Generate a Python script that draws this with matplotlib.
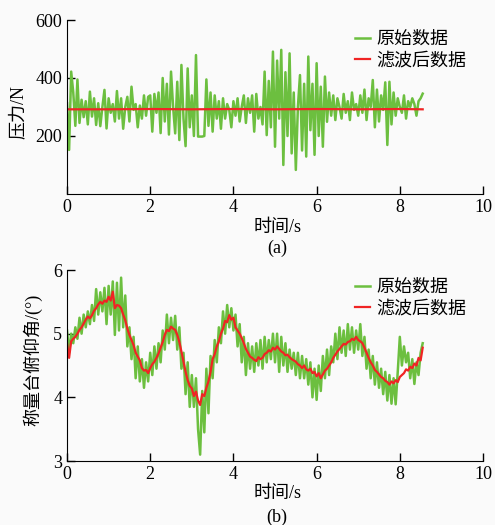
import numpy as np
import matplotlib
matplotlib.use('Agg')
import matplotlib.pyplot as plt

plt.rcParams['font.family'] = ['Liberation Serif', 'Noto Sans CJK SC']
plt.rcParams['axes.unicode_minus'] = False

# (a) 压力 - 时间 (采样间隔 0.05 s)
t_step = 0.05
force_raw = [
    313, 152, 422, 350, 235, 395, 245, 325, 265, 320,
    240, 353, 267, 330, 238, 313, 234, 300, 359, 226,
    330, 280, 310, 250, 355, 260, 330, 225, 300, 335,
    250, 370, 290, 310, 230, 305, 260, 340, 270, 335,
    340, 215, 345, 280, 350, 210, 400, 250, 380, 205,
    422, 300, 209, 387, 186, 445, 260, 165, 433, 230,
    340, 200, 479, 198, 198, 198, 200, 395, 235, 350,
    215, 340, 260, 320, 225, 330, 260, 310, 290, 230,
    320, 270, 330, 250, 300, 340, 245, 330, 280, 340,
    215, 345, 260, 300, 240, 422, 203, 390, 230, 491,
    163, 460, 260, 497, 100, 420, 200, 485, 140, 350,
    83, 300, 410, 150, 380, 129, 474, 220, 380, 135,
    451, 200, 370, 163, 405, 249, 350, 270, 340, 255,
    330, 300, 260, 345, 280, 320, 255, 350, 290, 310,
    270, 340, 280, 360, 255, 330, 300, 393, 230, 360,
    250, 340, 290, 385, 169, 387, 240, 350, 270, 330,
    300, 280, 340, 260, 320, 300, 330, 310, 270, 320,
    330, 346,
]
force_filt_t = [0, 1, 2, 3, 4, 5, 6, 7, 8, 8.55]
force_filt = [292, 292, 293, 292, 293, 292, 293, 292, 293, 292]

# (b) 称量台俯仰角 - 时间
angle_raw = [
    5.05, 4.70, 5.00, 4.85, 5.10, 4.92, 5.25, 5.00, 5.30, 5.10,
    5.35, 5.15, 5.45, 5.20, 5.70, 5.30, 5.65, 5.35, 5.72, 5.15,
    5.75, 5.30, 5.82, 4.98, 5.80, 5.05, 5.88, 5.10, 5.60, 4.80,
    5.10, 4.60, 4.95, 4.30, 4.80, 4.25, 4.60, 4.15, 4.55, 4.25,
    4.70, 4.35, 4.80, 4.45, 4.85, 4.55, 5.05, 4.75, 5.30, 4.85,
    5.25, 4.90, 5.28, 4.75, 5.10, 4.45, 4.70, 4.05, 4.55, 3.85,
    4.35, 3.85, 4.30, 3.50, 3.10, 4.10, 3.45, 4.45, 3.75, 4.65,
    4.30, 4.90, 4.55, 5.10, 4.85, 5.35, 5.00, 5.45, 5.10, 5.40,
    5.05, 5.30, 4.80, 5.15, 4.55, 4.95, 4.35, 4.85, 4.45, 4.80,
    4.40, 4.85, 4.50, 4.90, 4.45, 4.95, 4.55, 4.90, 4.60, 5.00,
    4.55, 5.00, 4.40, 4.95, 4.50, 4.85, 4.40, 4.75, 4.45, 4.70,
    4.35, 4.70, 4.30, 4.65, 4.30, 4.60, 4.20, 4.55, 4.00, 4.45,
    3.96, 4.50, 4.10, 4.65, 4.30, 4.75, 4.35, 4.80, 4.55, 5.00,
    4.60, 5.10, 4.70, 5.05, 4.65, 5.15, 4.75, 5.10, 4.70, 5.05,
    4.75, 5.15, 4.65, 4.95, 4.45, 4.75, 4.30, 4.65, 4.20, 4.55,
    4.15, 4.45, 4.05, 4.40, 3.95, 4.35, 3.90, 4.30, 3.89, 4.40,
    4.95, 4.50, 4.80, 4.55, 4.70, 4.30, 4.60, 4.21, 4.55, 4.35,
    4.70, 4.85,
]
angle_filt = [
    4.85, 4.62, 4.88, 4.92, 4.95, 5.00, 5.06, 5.10, 5.16, 5.22,
    5.27, 5.24, 5.29, 5.36, 5.40, 5.46, 5.50, 5.47, 5.52, 5.50,
    5.58, 5.52, 5.66, 5.40, 5.45, 5.44, 5.40, 5.30, 5.21, 5.08,
    4.98, 4.90, 4.82, 4.70, 4.64, 4.58, 4.46, 4.42, 4.43, 4.38,
    4.46, 4.52, 4.56, 4.62, 4.69, 4.78, 4.87, 4.98, 5.06, 5.04,
    5.11, 5.08, 5.06, 4.98, 4.87, 4.72, 4.56, 4.40, 4.27, 4.18,
    4.14, 4.02, 4.09, 3.95, 3.88, 4.05, 4.02, 4.15, 4.25, 4.40,
    4.60, 4.68, 4.80, 4.88, 5.00, 5.08, 5.20, 5.18, 5.29, 5.22,
    5.25, 5.10, 5.05, 5.00, 4.93, 4.85, 4.76, 4.70, 4.64, 4.62,
    4.59, 4.57, 4.63, 4.60, 4.62, 4.68, 4.70, 4.74, 4.72, 4.78,
    4.75, 4.80, 4.76, 4.72, 4.70, 4.66, 4.67, 4.63, 4.60, 4.58,
    4.56, 4.52, 4.50, 4.46, 4.50, 4.44, 4.42, 4.45, 4.38, 4.40,
    4.33, 4.38, 4.30, 4.36, 4.42, 4.45, 4.50, 4.55, 4.62, 4.67,
    4.72, 4.76, 4.80, 4.84, 4.83, 4.87, 4.88, 4.92, 4.90, 4.95,
    4.90, 4.88, 4.85, 4.78, 4.70, 4.62, 4.55, 4.50, 4.43, 4.40,
    4.36, 4.32, 4.30, 4.26, 4.24, 4.20, 4.25, 4.22, 4.27, 4.24,
    4.32, 4.35, 4.38, 4.44, 4.42, 4.48, 4.46, 4.53, 4.50, 4.62,
    4.58, 4.78,
]

green = '#6cbf3f'
red = '#f02424'
fs = 13

fig = plt.figure(figsize=(4.95, 5.25), dpi=100, facecolor='#fafafa')
ax1 = fig.add_axes([0.1354, 0.6305, 0.8404, 0.3314])
ax2 = fig.add_axes([0.1354, 0.1219, 0.8404, 0.3638])

t1 = np.arange(len(force_raw)) * t_step
ax1.plot(t1, force_raw, color=green, lw=1.8, label='原始数据')
ax1.plot(force_filt_t, force_filt, color=red, lw=1.6, label='滤波后数据')
ax1.set_xlim(0, 10)
ax1.set_ylim(0, 600)
ax1.set_yticks([200, 400, 600])
ax1.set_ylabel('压力/N', fontsize=fs)
ax1.yaxis.set_label_coords(-0.098, 0.47)
ax1.text(0.505, -0.19, '时间/s', transform=ax1.transAxes, ha='center', va='center', fontsize=fs)
ax1.text(0.505, -0.31, '(a)', transform=ax1.transAxes, ha='center', va='center', fontsize=fs)

t2 = np.arange(len(angle_raw)) * t_step
ax2.plot(t2, angle_raw, color=green, lw=1.8, label='原始数据')
ax2.plot(t2, angle_filt, color=red, lw=1.6, label='滤波后数据')
ax2.set_xlim(0, 10)
ax2.set_ylim(3, 6)
ax2.set_yticks([3, 4, 5, 6])
ax2.set_ylabel('称量台俯仰角/(°)', fontsize=fs)
ax2.yaxis.set_label_coords(-0.06, 0.53)
ax2.text(0.505, -0.168, '时间/s', transform=ax2.transAxes, ha='center', va='center', fontsize=fs)
ax2.text(0.505, -0.293, '(b)', transform=ax2.transAxes, ha='center', va='center', fontsize=fs)

for ax, ly in [(ax1, 0.937), (ax2, 0.953)]:
    ax.set_facecolor('#fafafa')
    ax.set_xticks([0, 2, 4, 6, 8, 10])
    ax.spines['top'].set_visible(False)
    ax.spines['right'].set_visible(False)
    ax.tick_params(direction='in', length=6, width=1, labelsize=fs)
    ax.legend(loc='upper left', bbox_to_anchor=(0.692, ly), frameon=False,
              fontsize=fs, handlelength=0.85, handletextpad=0.35,
              borderpad=0, borderaxespad=0, labelspacing=0.25)

fig.savefig('out.png', dpi=100, facecolor=fig.get_facecolor())
